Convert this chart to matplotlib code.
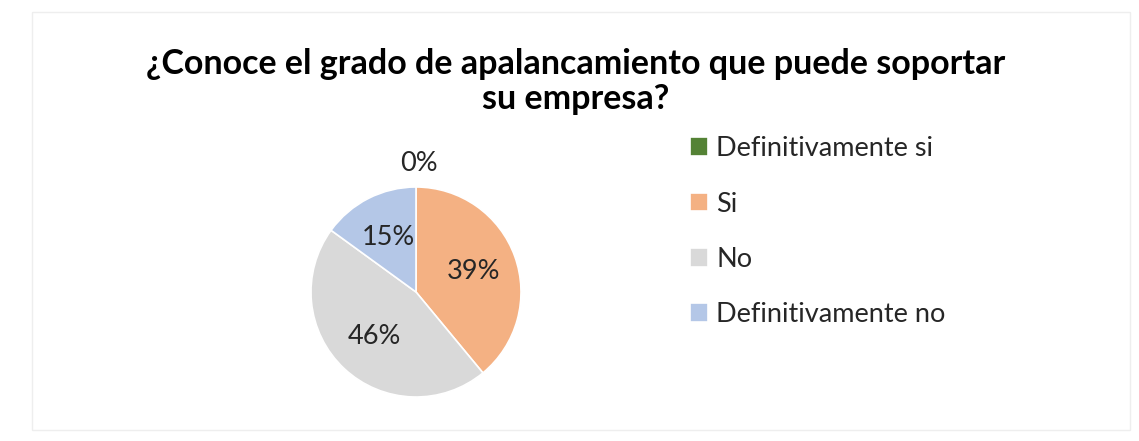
import matplotlib.pyplot as plt
from matplotlib.patches import Rectangle

categorias = ['Definitivamente si', 'Si', 'No', 'Definitivamente no']
porcentajes = [0, 39, 46, 15]
colores = ['#548235', '#F4B183', '#D9D9D9', '#B4C7E7']
titulo = '¿Conoce el grado de apalancamiento que puede soportar\nsu empresa?'

plt.rcParams['font.family'] = ['Lato', 'DejaVu Sans']

fig = plt.figure(figsize=(11.39, 4.41), dpi=100)

# marco tenue alrededor del grafico
fig.patches.append(Rectangle((0.028, 0.025), 0.964, 0.948, transform=fig.transFigure,
                             fill=False, edgecolor='#eeeeee', linewidth=1))

fig.text(0.505, 0.815, titulo, ha='center', va='center', fontsize=24.5,
         fontweight='bold', color='#000000', linespacing=1.1)

# eje del pastel: centro (416, 292) px, radio 105 px
r_px = 105
lim = 1.2
w = 2 * lim * r_px / 1139
h = 2 * lim * r_px / 441
ax = fig.add_axes([416 / 1139 - w / 2, (441 - 292) / 441 - h / 2, w, h])

wedges, textos, autotextos = ax.pie(
    porcentajes, colors=colores, startangle=90, counterclock=False,
    autopct=lambda p: f'{p:.0f}%', pctdistance=0.58,
    wedgeprops=dict(edgecolor='white', linewidth=1.2),
    textprops=dict(fontsize=19.5, color='#262626'))
ax.set_xlim(-lim, lim)
ax.set_ylim(-lim, lim)
ax.set_aspect('equal')

# la etiqueta del 0% va por encima del pastel
autotextos[0].set_position((0.03, 1.22))

leg = fig.legend(wedges, categorias, loc='upper left', bbox_to_anchor=(0.5844, 0.7465),
                 frameon=False, fontsize=19.5, handlelength=0.67, handleheight=0.67,
                 handletextpad=0.3, labelspacing=1.12, labelcolor='#262626')

fig.savefig('out.png', dpi=100, facecolor='white')
